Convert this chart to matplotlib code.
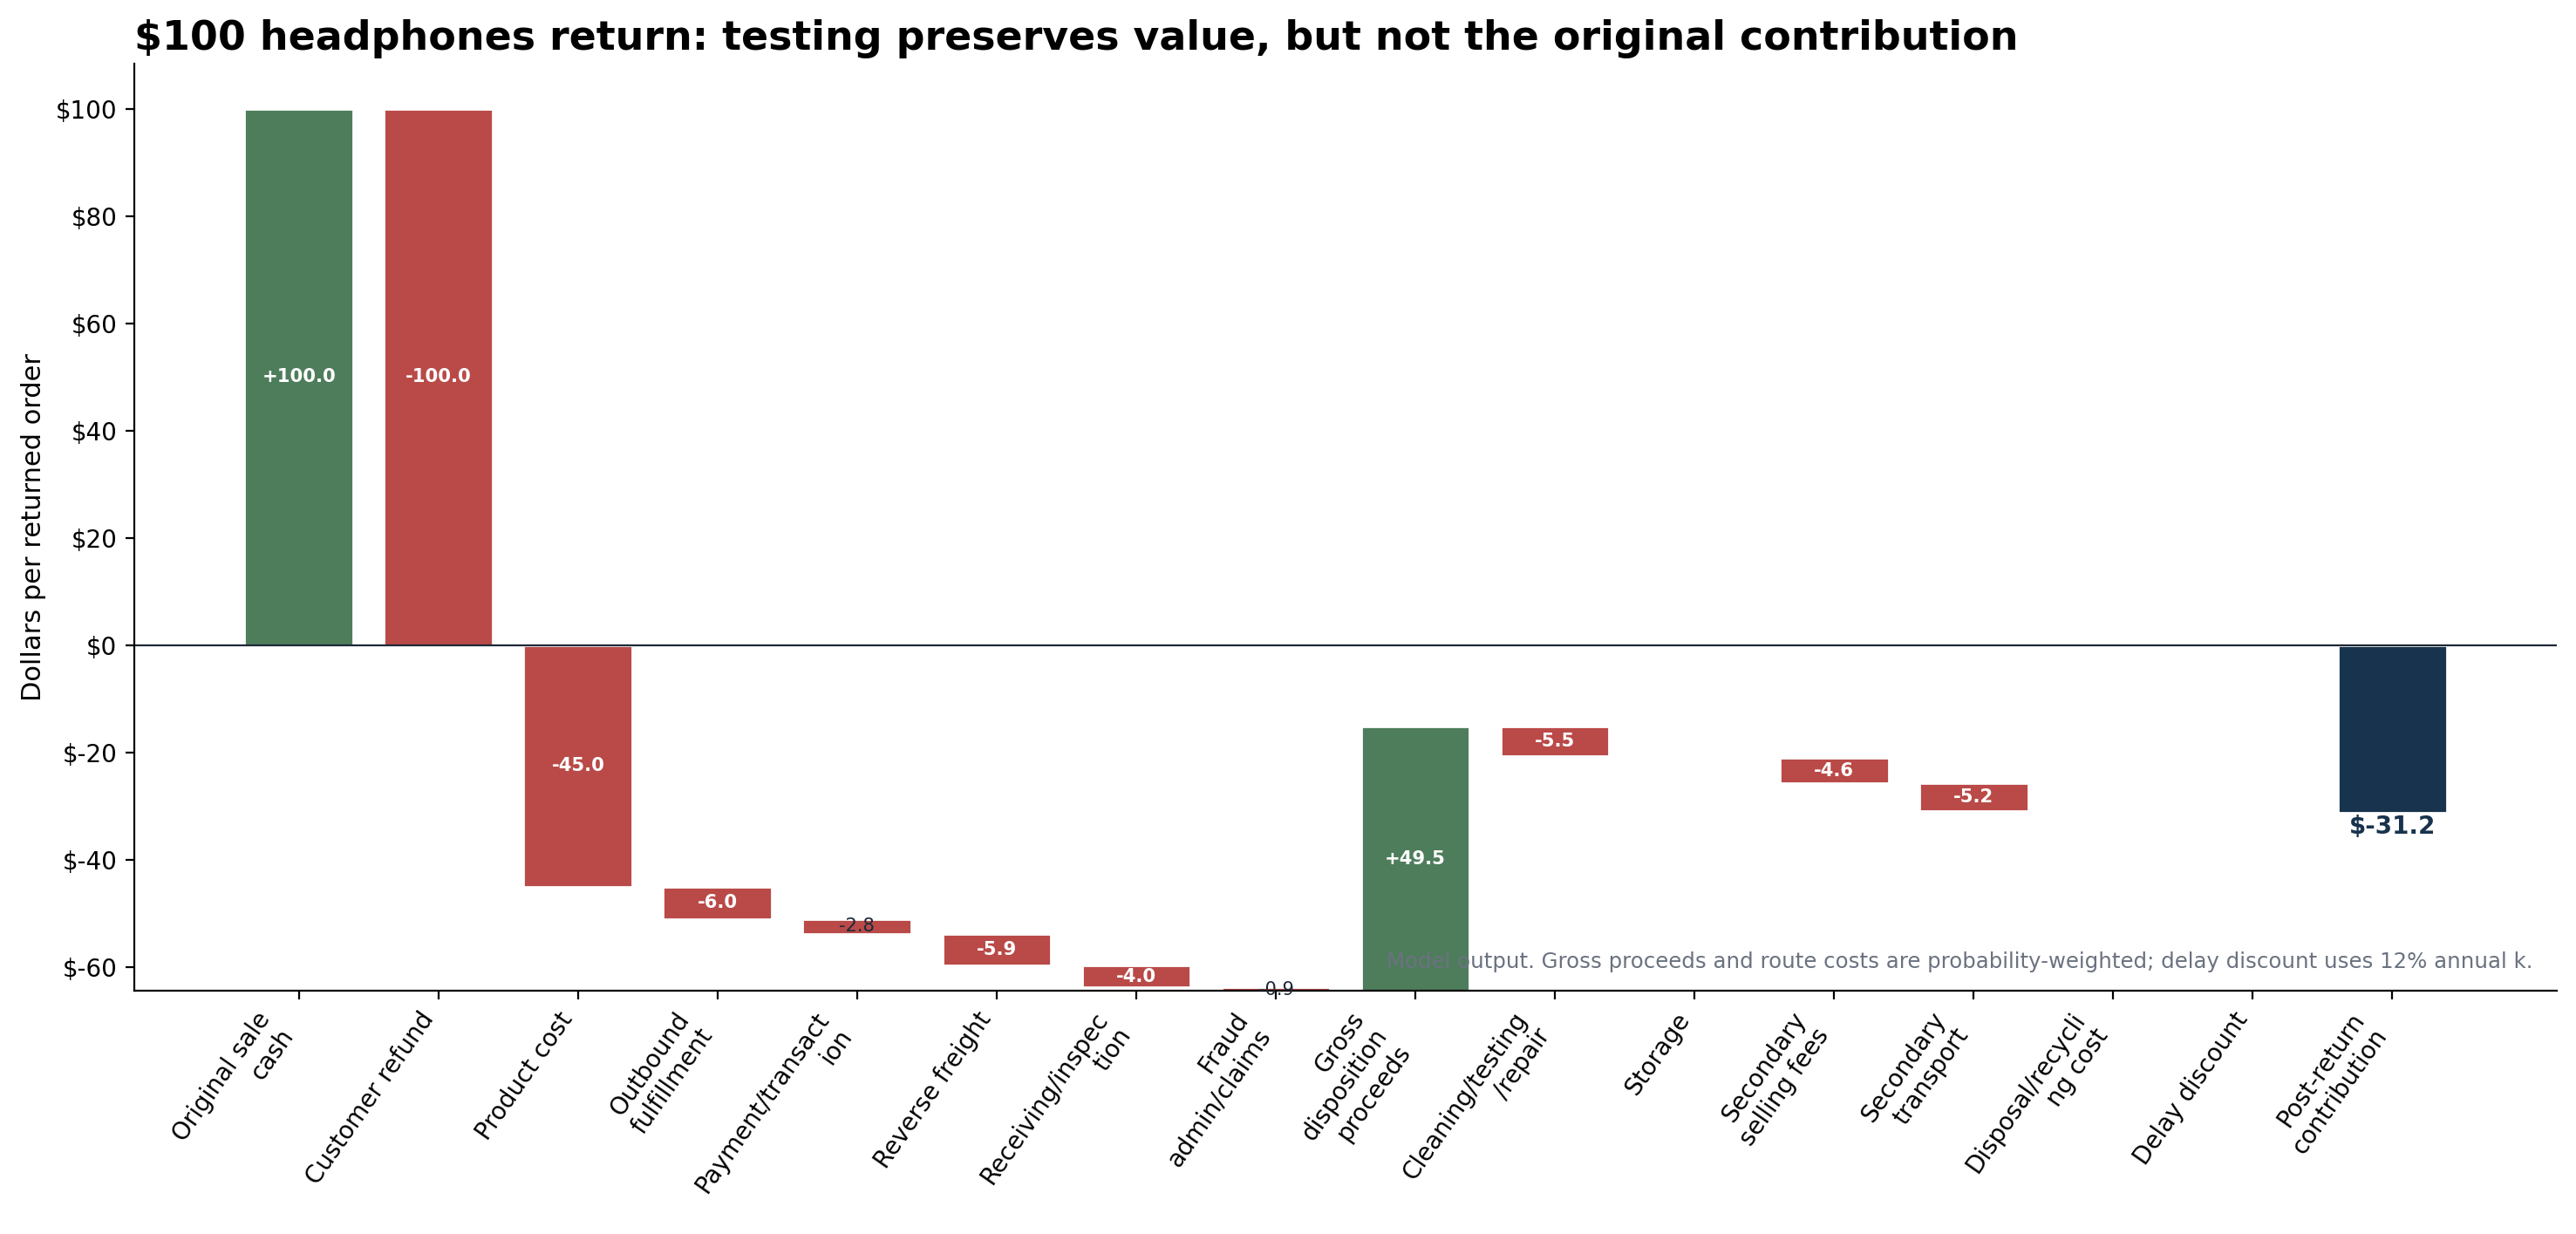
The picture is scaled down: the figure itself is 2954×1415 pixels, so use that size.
import matplotlib
matplotlib.use("Agg")
import matplotlib.pyplot as plt
import numpy as np
from matplotlib.ticker import FuncFormatter

categories = [
    "Original sale\ncash", "Customer refund", "Product cost", "Outbound\nfulfillment",
    "Payment/transact\nion", "Reverse freight", "Receiving/inspec\ntion", "Fraud\nadmin/claims",
    "Gross\ndisposition\nproceeds", "Cleaning/testing\n/repair", "Storage", "Secondary\nselling fees",
    "Secondary\ntransport", "Disposal/recycli\nng cost", "Delay discount", "Post-return\ncontribution",
]
step_values = [100.0, -100.0, -45.0, -6.0, -2.8, -5.9, -4.0, -0.9,
               49.5, -5.5, -0.45, -4.6, -5.2, -0.1, -0.25]
title = "$100 headphones return: testing preserves value, but not the original contribution"
footnote = ("Model output. Gross proceeds and route costs are probability-weighted; "
            "delay discount uses 12% annual k.")

GREEN = "#4E7D5B"
RED = "#B94A48"
NAVY = "#18334D"
GRAY = "#6B7280"
DARK = "#1F2937"

fig = plt.figure(figsize=(14.77, 7.075), dpi=200)
ax = fig.add_axes([0.0521, 0.197, 0.9405, 0.7512])

steps = np.array(step_values)
ends = np.cumsum(steps)
starts = ends - steps
total = ends[-1]
x = np.arange(len(categories))
width = 0.78

colors = [GREEN if v > 0 else RED for v in steps]
ax.bar(x[:-1], steps, bottom=starts, width=width, color=colors,
       edgecolor="white", linewidth=1.0, zorder=2)
ax.bar(x[-1], total, bottom=0, width=width, color=NAVY,
       edgecolor="white", linewidth=1.0, zorder=2)

for xi, s, v in zip(x[:-1], starts, steps):
    if abs(v) < 0.5:
        continue
    yc = s + v / 2
    if abs(v) >= 3:
        ax.text(xi, yc, f"{v:+.1f}", ha="center", va="center", color="white",
                fontsize=7.6, fontweight="bold", zorder=3)
    else:
        ax.text(xi, yc, f"{v:+.1f}", ha="center", va="center", color=DARK,
                fontsize=7.6, zorder=3, clip_on=False)

ax.text(x[-1], total - 0.4, f"${total:.1f}", ha="center", va="top",
        color=NAVY, fontsize=10, fontweight="bold", zorder=3)

ax.axhline(0, color=DARK, linewidth=0.8, zorder=2.5)

ax.set_xlim(-1.18, len(categories) - 1 + 1.18)
ax.set_ylim(-64.42, 108.4)
ax.set_yticks(np.arange(-60, 101, 20))
ax.yaxis.set_major_formatter(FuncFormatter(lambda v, p: f"${v:.0f}"))
ax.tick_params(axis="y", labelsize=10)
ax.set_xticks(x)
ax.set_xticklabels(categories, rotation=55, ha="right", fontsize=10)
ax.set_ylabel("Dollars per returned order", fontsize=11)
ax.spines["top"].set_visible(False)
ax.spines["right"].set_visible(False)

ax.set_title(title, loc="left", fontsize=16.5, fontweight="bold", pad=6)
ax.text(0.99, 0.031, footnote, transform=ax.transAxes, ha="right", va="center",
        fontsize=8.8, color=GRAY)

fig.savefig("out.png", dpi=200)
